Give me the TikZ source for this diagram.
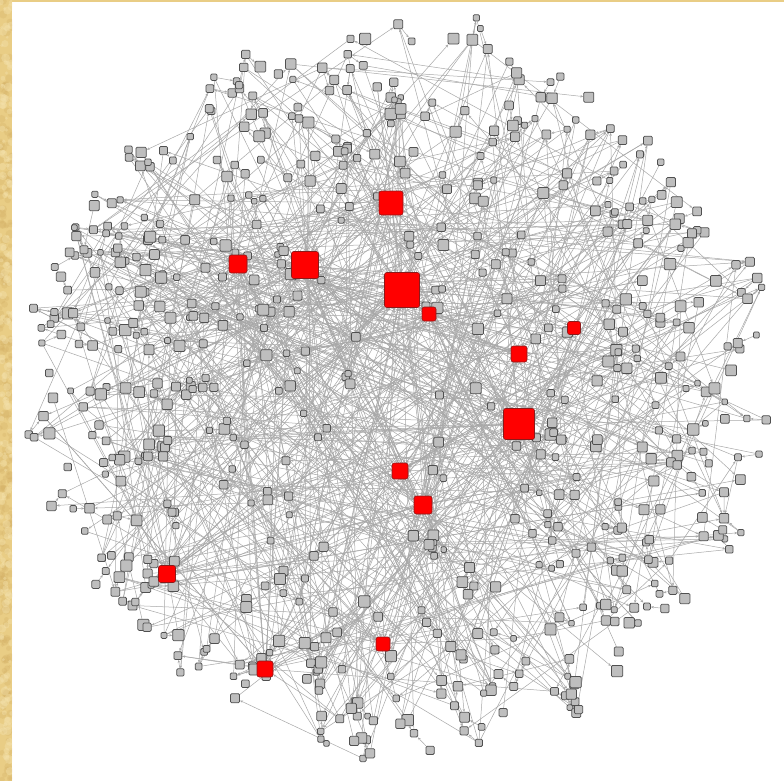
\documentclass[tikz,border=0pt]{standalone}
\usetikzlibrary{arrows.meta}
\pgfdeclarelayer{back}
\pgfdeclarelayer{bg}
\pgfsetlayers{back,bg,main}
\definecolor{gold}{HTML}{E9CD85}
\definecolor{golddark}{HTML}{D4B066}
\definecolor{goldlight}{HTML}{F5E3AE}
\definecolor{nodefill}{HTML}{BEBEBE}
\definecolor{nodeline}{HTML}{505050}
\definecolor{edgecol}{HTML}{A8A8A8}
\definecolor{hubred}{HTML}{FF0000}
\definecolor{hubline}{HTML}{8A1A1A}
\tikzset{
  gnode/.style={draw=nodeline, fill=nodefill, line width=0.75pt, rounded corners=1.2pt, inner sep=0pt, minimum size=#1},
  hub/.style={draw=hubline, fill=hubred, line width=0.6pt, rounded corners=2.2pt, inner sep=0pt, minimum size=#1},
  edge/.style={draw=edgecol, line width=0.5pt, -{Stealth[length=3pt,width=2.4pt]}},
}
\begin{document}
\begin{tikzpicture}[x=1pt,y=-1pt]
\useasboundingbox (0,0) rectangle (784,781);
\pgfmathsetseed{4217}
\begin{pgfonlayer}{back}
  \fill[white] (0,0) rectangle (784,781);
  \fill[gold] (0,0) rectangle (12,781);
  \fill[gold] (0,0) rectangle (784,2.5);
  \begin{scope}
    \clip (0,0) rectangle (12,781);
    \foreach \k in {1,...,260}{
      \pgfmathsetmacro{\yy}{781*rnd}
      \pgfmathsetmacro{\xx}{12*rnd}
      \pgfmathsetmacro{\rd}{1.5+3*rnd}
      \fill[golddark,opacity=0.3] (\xx,\yy) circle (\rd);
    }
    \foreach \k in {1,...,200}{
      \pgfmathsetmacro{\yy}{781*rnd}
      \pgfmathsetmacro{\xx}{12*rnd}
      \pgfmathsetmacro{\rd}{1.5+3*rnd}
      \fill[goldlight,opacity=0.4] (\xx,\yy) circle (\rd);
    }
  \end{scope}
\end{pgfonlayer}
% primary gray nodes, each of the first 230 with an outward leaf
\foreach \i in {1,...,420}{
  \pgfmathsetmacro{\radA}{pow(rnd,0.36)}
  \pgfmathsetmacro{\angA}{360*rnd}
  \pgfmathsetmacro{\sizA}{6+5.5*rnd}
  \pgfmathsetmacro{\px}{401+360*\radA*cos(\angA)}
  \pgfmathsetmacro{\py}{388+356*\radA*sin(\angA)}
  \node[gnode=\sizA pt] (n\i) at (\px,\py) {};
  \ifnum\i<231
    \pgfmathtruncatemacro{\j}{\i+420}
    \pgfmathsetmacro{\angB}{\angA+110*(rnd-0.5)}
    \pgfmathsetmacro{\dd}{12+12*rnd}
    \pgfmathsetmacro{\sizB}{5.5+4*rnd}
    \node[gnode=\sizB pt] (n\j) at ([shift={(\angB:\dd)}]n\i.center) {};
    \begin{pgfonlayer}{bg}
      \draw[edge] (n\j) -- (n\i);
    \end{pgfonlayer}
  \fi
}
% hubs
\foreach \h/\hx/\hy/\hs in {1/391/203/24, 2/238/264/18, 3/305/265/27, 4/402/290/35, 5/429/314/14, 6/574/328/13, 7/519/354/16, 8/519/424/31, 9/400/471/16, 10/423/505/18, 11/167/574/17, 12/383/644/14, 13/265/669/16}{
  \node[hub=\hs pt] (h\h) at (\hx,\hy) {};
}
\begin{pgfonlayer}{bg}
% random long edges
\foreach \k in {1,...,560}{
  \pgfmathrandominteger{\ea}{1}{650}
  \pgfmathrandominteger{\eb}{1}{650}
  \pgfmathtruncatemacro{\ec}{ifthenelse(\eb==\ea, mod(\ea,650)+1, \eb)}
  \draw[edge] (n\ea) -- (n\ec);
}
% hub edges
\foreach \h/\c in {1/26, 2/18, 3/30, 4/38, 5/12, 6/10, 7/14, 8/34, 9/14, 10/16, 11/18, 12/14, 13/16}{
  \foreach \k in {1,...,\c}{
    \pgfmathrandominteger{\ea}{1}{650}
    \draw[edge] (n\ea) -- (h\h);
  }
}
\end{pgfonlayer}
\end{tikzpicture}
\end{document}
